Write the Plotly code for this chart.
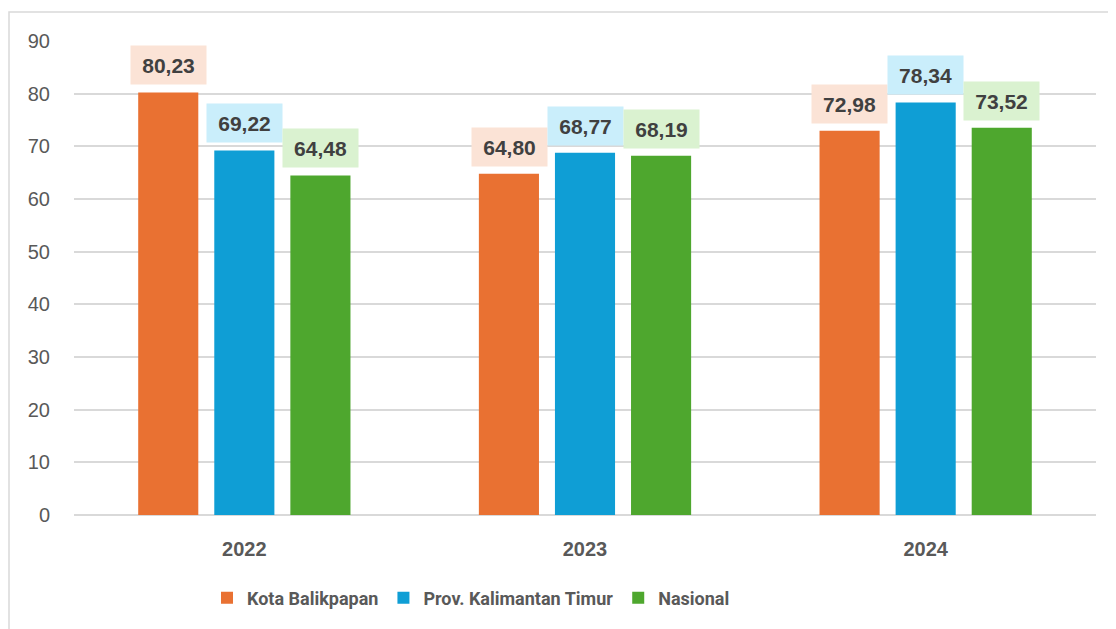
import plotly.graph_objects as go

years = ["2022", "2023", "2024"]
series_names = ["Kota Balikpapan", "Prov. Kalimantan Timur", "Nasional"]
kota = [80.23, 64.80, 72.98]
prov = [69.22, 68.77, 78.34]
nasional = [64.48, 68.19, 73.52]
y_ticks = [0, 10, 20, 30, 40, 50, 60, 70, 80, 90]

bar_colors = ["#E97132", "#0F9ED5", "#4EA72E"]
label_bg = ["#FBE3D6", "#CAEEFB", "#DAF2D0"]
all_values = [kota, prov, nasional]

# page has 8px body margin -> figure coords are page coords - 8
W, H = 1108, 621
L, R, T, B = 66, 20, 33, 114
pw = W - L - R
ph = H - T - B

xpos = list(range(len(years)))

fig = go.Figure()
for name, vals, col in zip(series_names, all_values, bar_colors):
    fig.add_trace(go.Bar(x=xpos, y=vals, name=f"<b>{name}</b>",
                         marker=dict(color=col, line=dict(width=0))))

def fmt(v):
    return f"{v:.2f}".replace(".", ",")

shifts = [-76, 0, 76]
for si, vals in enumerate(all_values):
    for yi, v in enumerate(vals):
        fig.add_annotation(x=xpos[yi], y=v, xref="x", yref="y", text=f"<b>{fmt(v)}</b>",
                           showarrow=False, xshift=shifts[si], yshift=7, yanchor="bottom",
                           font=dict(family="Liberation Sans, Arial", size=21, color="#404040"),
                           bgcolor=label_bg[si], borderpad=7, width=61, height=24)

fig.add_shape(type="rect", xref="paper", yref="paper",
              x0=(1 - L) / pw, x1=(W + 20 - L) / pw,
              y0=-(H + 20 - T - ph) / ph - 0.1, y1=1 + (T - 4) / ph,
              line=dict(color="#D9D9D9", width=1.5), fillcolor="rgba(0,0,0,0)", layer="below")

fig.update_layout(
    width=W, height=H,
    margin=dict(l=L, r=R, t=T, b=B, autoexpand=False),
    paper_bgcolor="white", plot_bgcolor="white",
    barmode="group", bargap=0.33, bargroupgap=0.21,
    font=dict(family="Liberation Sans, Arial", color="#595959"),
    showlegend=True,
    legend=dict(orientation="h", x=(463 - L) / pw, xanchor="center", y=-(590 - 507) / ph, yanchor="middle",
                font=dict(size=18, color="#595959", family="Roboto, Liberation Sans"),
                itemclick=False, traceorder="normal"),
    xaxis=dict(range=[-0.5, 2.5], showgrid=False, showline=False, zeroline=False,
               tickfont=dict(size=20, color="#595959"), ticks="outside", ticklen=16,
               tickcolor="rgba(0,0,0,0)", automargin=False,
               tickvals=xpos, ticktext=[f"<b>{y}</b>" for y in years]),
    yaxis=dict(range=[0, 90], tickvals=y_ticks, showgrid=True, gridcolor="#D9D9D9", gridwidth=1.5,
               zeroline=True, zerolinecolor="#D9D9D9", zerolinewidth=2, showline=False,
               tickfont=dict(size=20, color="#595959"), ticks="outside", ticklen=19,
               tickcolor="rgba(0,0,0,0)", automargin=False),
)

fig.write_html("out.html")
